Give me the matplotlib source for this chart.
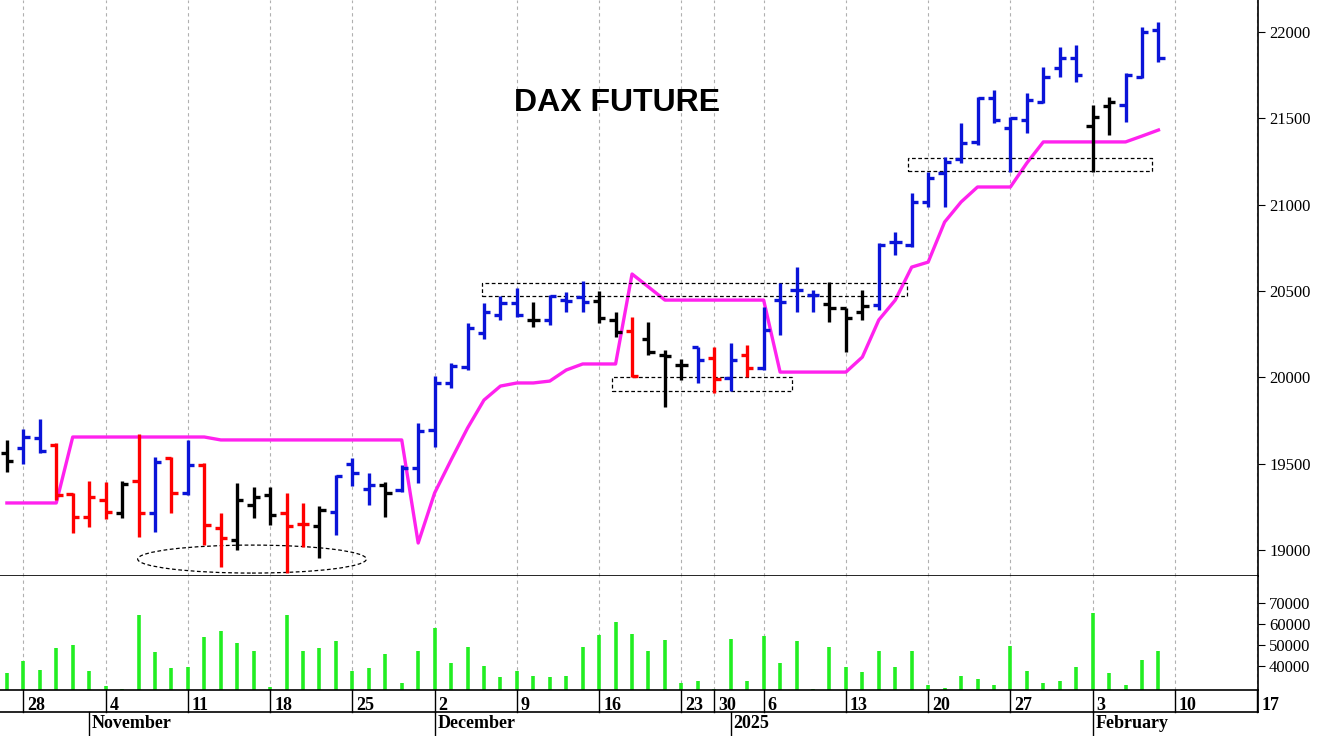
import matplotlib
matplotlib.use("Agg")
import matplotlib.pyplot as plt
import matplotlib.transforms as mt
from matplotlib.patches import Rectangle, Ellipse
import numpy as np

# trading-day index 0 = Fri 25 Oct 2024
opens = [19561, 19590, 19648, 19608, 19324, 19191, 19289, 19214, 19399, 19214,
         19532, 19330, 19492, 19127, 19057, 19260, 19318, 19214, 19150, 19138,
         19220, 19498, 19353, 19376, 19347, 19474, 19694, 19967, 20059, 20256,
         20361, 20430, 20332, 20332, 20447, 20465, 20442, 20332, 20268, 20222,
         20129, 20071, 20175, 20112, 19996, 20129, 20054, 20447, 20505, 20476,
         20424, 20401, 20378, 20418, 20783, 20766, 21015, 21183, 21264, 21363,
         21617, 21444, 21490, 21594, 21791, 21849, 21455, 21571, 21577, 21739, 22011]
highs = [19637, 19700, 19758, 19619, 19330, 19399, 19393, 19399, 19671, 19538,
         19538, 19637, 19503, 19214, 19388, 19364, 19364, 19330, 19272, 19254,
         19434, 19532, 19445, 19393, 19492, 19735, 20005, 20082, 20314, 20430,
         20471, 20517, 20436, 20476, 20494, 20557, 20500, 20378, 20349, 20320,
         20158, 20106, 20175, 20175, 20198, 20187, 20407, 20546, 20638, 20505,
         20552, 20401, 20505, 20778, 20841, 21067, 21189, 21276, 21473, 21623,
         21664, 21507, 21646, 21797, 21913, 21924, 21577, 21623, 21762, 22029, 22058]
lows = [19451, 19498, 19561, 19289, 19098, 19133, 19179, 19185, 19075, 19104,
        19214, 19318, 19028, 18901, 19000, 19185, 19144, 18866, 19017, 18953,
        19086, 19370, 19260, 19191, 19335, 19388, 19596, 19938, 20042, 20222,
        20332, 20349, 20291, 20303, 20378, 20378, 20314, 20233, 20001, 20129,
        19828, 19984, 19967, 19909, 19920, 20001, 20042, 20245, 20378, 20378,
        20320, 20146, 20332, 20389, 20708, 20754, 20986, 20986, 21241, 21345,
        21473, 21189, 21415, 21588, 21739, 21710, 21189, 21403, 21478, 21733, 21826]
closes = [19515, 19654, 19573, 19318, 19191, 19306, 19220, 19382, 19214, 19509,
          19330, 19492, 19144, 19069, 19289, 19306, 19202, 19138, 19150, 19231,
          19428, 19445, 19376, 19330, 19474, 19689, 19967, 20065, 20285, 20378,
          20430, 20361, 20332, 20471, 20442, 20436, 20343, 20262, 20007, 20146,
          20123, 20071, 20100, 19990, 20100, 20054, 20274, 20436, 20505, 20476,
          20401, 20343, 20413, 20766, 20783, 21015, 21154, 21247, 21357, 21617,
          21490, 21502, 21606, 21739, 21849, 21751, 21507, 21594, 21751, 22000, 21849]
# k = black, b = blue, r = red
bar_colors = ("kbbrrrrkrbrbrrkkkrrk" + "bbbkb" + "bbbbbbb" + "kbbbkkrkkk"
              + "brbrbbbb" + "kkk" + "bbbbbbbbbbbbb" + "kkbbb")
stop_line = [19272, 19272, 19272, 19272, 19654, 19654, 19654, 19654, 19654, 19654,
             19654, 19654, 19654, 19637, 19637, 19637, 19637, 19637, 19637, 19637,
             19637, 19637, 19637, 19637, 19637, 19040, 19330, 19521, 19706, 19868,
             19949, 19967, 19967, 19978, 20042, 20077, 20077, 20077, 20598, 20523,
             20447, 20447, 20447, 20447, 20447, 20447, 20447, 20030, 20030, 20030,
             20030, 20030, 20117, 20332, 20447, 20638, 20667, 20899, 21015, 21102,
             21102, 21102, 21241, 21363, 21363, 21363, 21363, 21363, 21363, 21397, 21432]
volume = [36770, 42420, 37900, 48550, 50000, 37420, 30320, 29030, 64520, 46600,
          38870, 39520, 54030, 56610, 51130, 47260, 30000, 64520, 47260, 48550,
          52100, 37580, 38870, 45650, 31770, 47260, 58230, 41610, 48870, 40000,
          34680, 37580, 35320, 34680, 35160, 48870, 55000, 60970, 55320, 47260,
          52420, 31770, 32740, 29190, 52900, 32740, 54360, 41610, 52100, 29030,
          48870, 39520, 37260, 47260, 39520, 47260, 31130, 29350, 35160, 34030,
          31130, 49520, 37580, 31940, 32740, 39520, 65320, 36610, 31130, 42900, 47260]
tick_idx = [1, 6, 11, 16, 21, 26, 31, 36, 41, 43, 46, 51, 56, 61, 66, 71, 76]
tick_lab = ["28", "4", "11", "18", "25", "2", "9", "16", "23", "30", "6", "13",
            "20", "27", "3", "10", "17"]
month_idx = [5, 26, 44, 66]
month_lab = ["November", "December", "2025", "February"]

cmap = {"k": "black", "b": "#0a14d8", "r": "#ff0000"}
W, H = 1331, 736
fig = plt.figure(figsize=(W / 100, H / 100), dpi=100)
x0, x1 = 0 / W, 1258 / W
ax = fig.add_axes([x0, 1 - 576 / H, x1 - x0, 576 / H])
axv = fig.add_axes([x0, 1 - 690 / H, x1 - x0, 114 / H], sharex=ax)

xlim = (-0.42, 76.05)
serif = "Liberation Serif"
x = np.arange(len(opens))
tw = 0.38
for i in x:
    c = cmap[bar_colors[i]]
    ax.plot([i, i], [lows[i], highs[i]], color=c, lw=2.4, solid_capstyle="butt")
    ax.plot([i - tw, i], [opens[i], opens[i]], color=c, lw=2.4, solid_capstyle="butt")
    ax.plot([i, i + tw], [closes[i], closes[i]], color=c, lw=2.4, solid_capstyle="butt")
ax.plot(x, stop_line, color="#ff22ee", lw=2.4, zorder=1)

# annotations
for (a, b, lo, hi) in [(28.9, 54.7, 20471, 20546), (36.8, 47.7, 19920, 20001),
                       (54.8, 69.6, 21195, 21270)]:
    ax.add_patch(Rectangle((a, lo), b - a, hi - lo, fill=False, ls=(0, (3, 2)),
                           lw=0.9, ec="black"))
ax.add_patch(Ellipse((14.9, 18947), 13.9, 162, fill=False, ls=(0, (3, 2)), lw=0.9,
                     ec="black"))
ax.text(37.1, 21588, "DAX FUTURE", fontsize=23, fontweight="bold", ha="center",
        va="center", family="Liberation Sans")

ax.set_xlim(*xlim)
ax.set_ylim(18849, 22185)
ax.yaxis.tick_right()
ax.set_yticks(np.arange(19000, 22001, 500))
ax.set_yticklabels([str(v) for v in range(19000, 22001, 500)], fontsize=12, family=serif)
for a in (ax, axv):
    for s in ("left", "top"):
        a.spines[s].set_visible(False)
    a.spines["right"].set_linewidth(1.2)
    a.spines["bottom"].set_linewidth(1.2)
    a.tick_params(axis="y", direction="out", length=5, pad=3)
    for t in tick_idx:
        a.axvline(t, color="#b0b0b0", ls=(0, (3, 3)), lw=0.8, zorder=0)
ax.tick_params(axis="x", bottom=False, labelbottom=False)

axv.vlines(x, 0, volume, color="#22ee22", lw=2.6)
axv.set_ylim(28550, 83000)
axv.yaxis.tick_right()
axv.set_yticks([40000, 50000, 60000, 70000])
axv.set_yticklabels(["40000", "50000", "60000", "70000"], fontsize=12, family=serif)
axv.set_xticks(tick_idx)
axv.set_xticklabels(tick_lab, fontsize=13, family=serif, fontweight="bold", ha="left")
axv.tick_params(axis="x", length=0, pad=5)
off = mt.ScaledTranslation(4 / 100, 0, fig.dpi_scale_trans)
for lab in axv.get_xticklabels():
    lab.set_transform(lab.get_transform() + off)


# lower axis grid: day separators and month row
def fx(i):
    return x0 + (x1 - x0) * (i - xlim[0]) / (xlim[1] - xlim[0])


y_ax, y_mid = 1 - 690 / H, 1 - 712 / H
fig.add_artist(plt.Line2D([0, x1], [y_mid, y_mid], color="black", lw=1.2))
fig.add_artist(plt.Line2D([x1, x1], [y_mid, y_ax], color="black", lw=1.2))
for t in tick_idx:
    fig.add_artist(plt.Line2D([fx(t), fx(t)], [y_ax, y_mid], color="black", lw=1))
for m, lab in zip(month_idx, month_lab):
    xm = fx(m)
    fig.add_artist(plt.Line2D([xm, xm], [y_mid, 0], color="black", lw=1))
    fig.text(xm + 0.002, 0.005, lab, fontsize=13, family=serif, fontweight="bold",
             ha="left", va="bottom")

fig.savefig("out.png", dpi=100)
